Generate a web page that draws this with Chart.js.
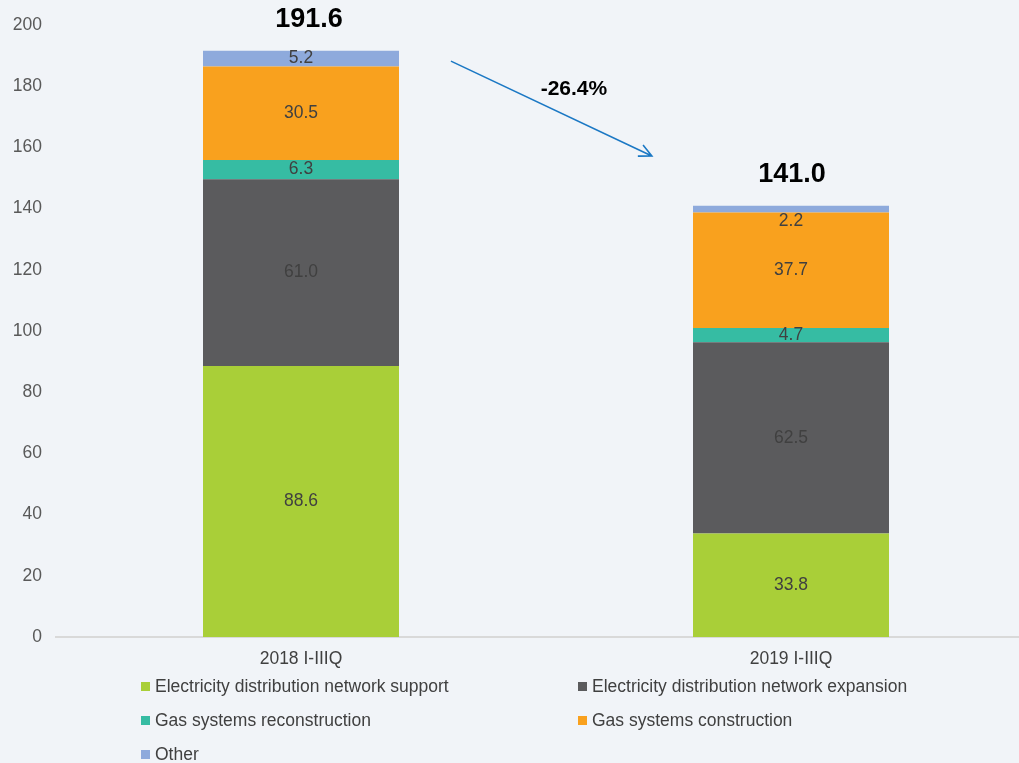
<!DOCTYPE html>
<html lang="en">
  <head>
    <meta charset="UTF-8" />
    <title>Investments by purpose</title>
    <script src="https://cdn.jsdelivr.net/npm/chart.js"></script>
    <style>
      html, body { margin: 0; padding: 0; background: #f1f4f8; overflow: hidden; }
      #wrap { position: relative; width: 1019px; height: 763px; overflow: hidden; }
      #legend { position: absolute; left: 0; top: 0; width: 1019px; height: 763px; pointer-events: none;
        font-family: Arial, "Liberation Sans", sans-serif; font-size: 17.5px; color: #404040; }
      .item { position: absolute; display: flex; align-items: center; white-space: nowrap; }
      .box { width: 9px; height: 9px; margin-right: 5px; }
    </style>
  </head>
  <body>
    <div id="wrap">
      <canvas id="chart" width="1040" height="763"></canvas>
      <div id="legend"></div>
    </div>

    <script>
      // Categories and series values
      const periods = ["2018 I-IIIQ", "2019 I-IIIQ"];
      const seriesNames = [
        "Electricity distribution network support",
        "Electricity distribution network expansion",
        "Gas systems reconstruction",
        "Gas systems construction",
        "Other",
      ];
      const seriesColors = ["#a9cf38", "#5b5b5d", "#36bca3", "#f9a11e", "#8eaadc"];
      const networkSupport = [88.6, 33.8];
      const networkExpansion = [61.0, 62.5];
      const gasReconstruction = [6.3, 4.7];
      const gasConstruction = [30.5, 37.7];
      const other = [5.2, 2.2];
      const totals = [191.6, 141.0];
      const changeLabel = "-26.4%";
      const yTicks = [0, 20, 40, 60, 80, 100, 120, 140, 160, 180, 200];

      const seriesValues = [networkSupport, networkExpansion, gasReconstruction, gasConstruction, other];
      const FONT = 'Arial, "Liberation Sans", sans-serif';

      // Values inside each segment, totals above, arrow between bars
      const annotations = {
        id: "annotations",
        afterDatasetsDraw(chart) {
          const ctx = chart.ctx;
          const x = chart.scales.x;
          const y = chart.scales.y;
          ctx.save();
          ctx.textAlign = "center";
          ctx.textBaseline = "middle";
          ctx.font = "17.5px " + FONT;
          ctx.fillStyle = "#404040";
          chart.data.datasets.forEach((ds, di) => {
            chart.getDatasetMeta(di).data.forEach((bar, i) => {
              const top = Math.min(bar.y, bar.base);
              const bottom = Math.max(bar.y, bar.base);
              let cy = (top + bottom) / 2;
              if (bottom - top < 10) cy = bottom + 9;
              ctx.fillText(ds.data[i].toFixed(1), bar.x, cy);
            });
          });

          ctx.font = "bold 27px " + FONT;
          ctx.fillStyle = "#000";
          totals.forEach((t, i) => {
            ctx.fillText(t.toFixed(1), x.getPixelForValue(i) + (i === 0 ? 8 : 1), y.getPixelForValue(t) - 31);
          });

          // arrow
          const x1 = x.getPixelForValue(0.306), y1 = y.getPixelForValue(188.2);
          const x2 = x.getPixelForValue(0.716), y2 = y.getPixelForValue(157.2);
          ctx.strokeStyle = "#1b78c4";
          ctx.lineWidth = 1.6;
          ctx.beginPath();
          ctx.moveTo(x1, y1);
          ctx.lineTo(x2, y2);
          const ang = Math.atan2(y2 - y1, x2 - x1);
          const hl = 14;
          ctx.moveTo(x2 - hl * Math.cos(ang - 0.45), y2 - hl * Math.sin(ang - 0.45));
          ctx.lineTo(x2, y2);
          ctx.lineTo(x2 - hl * Math.cos(ang + 0.45), y2 - hl * Math.sin(ang + 0.45));
          ctx.stroke();

          ctx.font = "bold 21px " + FONT;
          ctx.fillStyle = "#000";
          ctx.fillText(changeLabel, x.getPixelForValue(0.557), y.getPixelForValue(179));
          ctx.restore();
        },
      };

      const ctx = document.getElementById("chart").getContext("2d");
      new Chart(ctx, {
        type: "bar",
        data: {
          labels: periods,
          datasets: seriesValues.map((vals, i) => ({
            label: seriesNames[i],
            data: vals,
            backgroundColor: seriesColors[i],
            borderWidth: 0,
            barPercentage: 0.4,
            categoryPercentage: 1,
          })),
        },
        options: {
          responsive: false,
          animation: false,
          layout: { padding: { top: 25, right: 4, left: 0, bottom: 0 } },
          plugins: { legend: { display: false }, tooltip: { enabled: false } },
          scales: {
            x: {
              stacked: true,
              grid: { display: false },
              border: { color: "#d9d9d9", width: 2 },
              ticks: { color: "#404040", font: { family: FONT, size: 17.5 }, padding: 4 },
              afterFit: (s) => { s.height = 126; },
            },
            y: {
              stacked: true,
              min: 0,
              max: 200,
              grid: { display: false },
              border: { display: false },
              afterBuildTicks: (s) => { s.ticks = yTicks.map((v) => ({ value: v })); },
              ticks: { color: "#595959", font: { family: FONT, size: 17.5 }, padding: 6 },
              afterFit: (s) => { s.width = 56; },
            },
          },
        },
        plugins: [annotations],
      });

      // Two-column legend under the axis
      const legend = document.getElementById("legend");
      const legendPos = [[141, 686], [578, 686], [141, 720], [578, 720], [141, 754]];
      seriesNames.forEach((name, i) => {
        const el = document.createElement("div");
        el.className = "item";
        el.style.left = legendPos[i][0] + "px";
        el.style.top = legendPos[i][1] - 10 + "px";
        el.style.height = "20px";
        el.innerHTML = '<span class="box" style="background:' + seriesColors[i] + '"></span>' + name;
        legend.appendChild(el);
      });
    </script>
  </body>
</html>
